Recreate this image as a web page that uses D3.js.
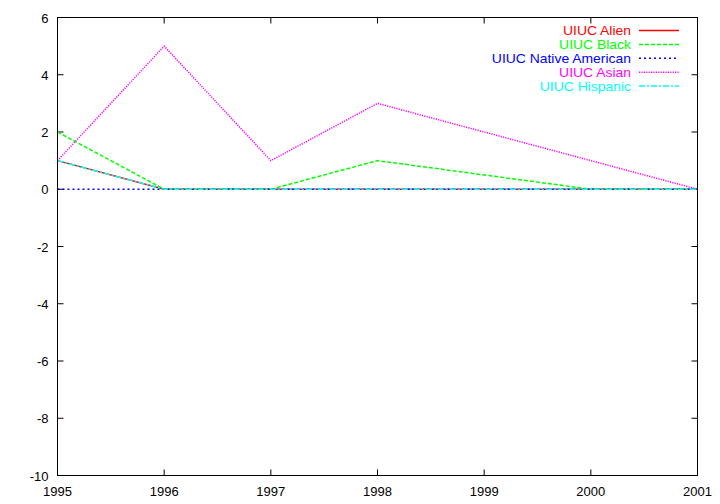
<!DOCTYPE html>
<html><head><meta charset="utf-8">
<script src="https://cdn.jsdelivr.net/npm/d3@7"></script>
<style>body{margin:0;background:#fff}svg{display:block}text{font-family:"Liberation Sans",Arial,sans-serif;font-size:13px}</style>
</head><body>
<svg id="c" width="720" height="504"></svg>
<script>
const years = [1995, 1996, 1997, 1998, 2000, 2001];
const alien = [1, 0, 0, 0, 0, 0];
const black = [2, 0, 0, 1, 0, 0];
const nativeAmerican = [0, 0, 0, 0, 0, 0];
const asian = [1, 5, 1, 3, 1, 0];
const hispanic = [1, 0, 0, 0, 0, 0];
const xTicks = [1995, 1996, 1997, 1998, 1999, 2000, 2001];
const yTicks = [-10, -8, -6, -4, -2, 0, 2, 4, 6];
const seriesNames = ["UIUC Alien", "UIUC Black", "UIUC Native American", "UIUC Asian", "UIUC Hispanic"];

const series = [
  {name: seriesNames[0], values: alien, color: "#ff0000", dash: null},
  {name: seriesNames[1], values: black, color: "#00ff00", dash: "4,2"},
  {name: seriesNames[2], values: nativeAmerican, color: "#0000ff", dash: "2,3"},
  {name: seriesNames[3], values: asian, color: "#ff00ff", dash: "1.2,1.2"},
  {name: seriesNames[4], values: hispanic, color: "#00ffff", dash: "6,2,2,2"}
];

const svg = d3.select("#c");
const L = 57.5, R = 697.5, T = 17.5, B = 475.5;
const x = d3.scaleLinear().domain([1995, 2001]).range([L, R]);
const y = d3.scaleLinear().domain([-10, 6]).range([B, T]);

const g = svg.append("g");
const tl = 6;
xTicks.forEach(t => {
  g.append("line").attr("x1", x(t)).attr("x2", x(t)).attr("y1", B).attr("y2", B - tl).attr("stroke", "#000");
  g.append("line").attr("x1", x(t)).attr("x2", x(t)).attr("y1", T).attr("y2", T + tl).attr("stroke", "#000");
  g.append("text").attr("x", x(t)).attr("y", B + 20).attr("text-anchor", "middle").text(t);
});
yTicks.forEach(t => {
  g.append("line").attr("x1", L).attr("x2", L + tl).attr("y1", y(t)).attr("y2", y(t)).attr("stroke", "#000");
  g.append("line").attr("x1", R).attr("x2", R - tl).attr("y1", y(t)).attr("y2", y(t)).attr("stroke", "#000");
  g.append("text").attr("x", L - 9).attr("y", y(t) + 5).attr("text-anchor", "end").text(t);
});

const line = d3.line().x((d, i) => x(years[i])).y(d => y(d));
series.forEach(s => {
  const p = svg.append("path").datum(s.values).attr("d", line)
    .attr("fill", "none").attr("stroke", s.color).attr("stroke-width", 1.5);
  if (s.dash) p.attr("stroke-dasharray", s.dash);
});

svg.append("rect").attr("x", L).attr("y", T).attr("width", R - L).attr("height", B - T)
  .attr("fill", "none").attr("stroke", "#000").attr("stroke-width", 1);

series.forEach((s, i) => {
  const yy = 30.5 + i * 13.9;
  svg.append("text").attr("transform", `translate(631,${yy + 4.5}) scale(1.16,1.08)`)
    .attr("text-anchor", "end")
    .style("font-size", "12px").attr("fill", s.color).text(s.name);
  const l = svg.append("line").attr("x1", 639).attr("x2", 679).attr("y1", yy).attr("y2", yy)
    .attr("stroke", s.color).attr("stroke-width", 1.5);
  if (s.dash) l.attr("stroke-dasharray", s.dash);
});
</script>
</body></html>
